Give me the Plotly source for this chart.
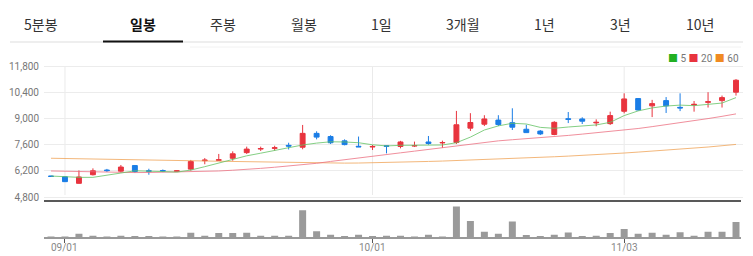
import plotly.graph_objects as go

# ---------------- data ----------------
dates = ["08/29", "09/01", "09/02", "09/03", "09/04", "09/05",
         "09/08", "09/09", "09/10", "09/11", "09/12",
         "09/15", "09/16", "09/17", "09/18", "09/19",
         "09/22", "09/23", "09/24", "09/25", "09/26",
         "09/29", "09/30", "10/01", "10/02",
         "10/10", "10/13", "10/14", "10/15", "10/16", "10/17",
         "10/20", "10/21", "10/22", "10/23", "10/24",
         "10/27", "10/28", "10/29", "10/30", "10/31",
         "11/03", "11/04", "11/05", "11/06", "11/07",
         "11/10", "11/11", "11/12", "11/13"]

open_ = [5920, 5880, 5530, 5990, 6240, 6180, 6480, 6200, 6210, 6170,
         6290, 6740, 6760, 6870, 7170, 7360, 7400, 7560, 7460, 8200,
         8030, 7800, 7510, 7470, 7540, 7500, 7520, 7740, 7690, 7710,
         8480, 8690, 8910, 8770, 8420, 8320, 8140, 8980, 8970, 8760,
         8720, 9380, 10060, 9670, 9950, 9590, 9720, 9860, 9950, 10400]
high = [5930, 5890, 6220, 6330, 6300, 6510, 6500, 6310, 6270, 6230,
        6780, 6880, 7100, 7240, 7490, 7490, 7540, 7700, 8650, 8310,
        8100, 7880, 8030, 7580, 7550, 7800, 7760, 8060, 7810, 9400,
        9280, 9170, 9170, 9540, 8660, 8380, 8850, 9340, 9060, 8950,
        9360, 10340, 10090, 9990, 10140, 10340, 9930, 10400, 10220, 11100]
low = [5890, 5600, 5520, 5950, 6140, 6110, 6100, 5990, 6130, 6150,
       6210, 6550, 6760, 6740, 7100, 7260, 7280, 7340, 7350, 7880,
       7630, 7560, 7470, 7310, 7130, 7400, 7470, 7590, 7430, 7630,
       8330, 8590, 8590, 8380, 8220, 8110, 8100, 8750, 8700, 8580,
       8650, 9270, 9420, 9070, 9290, 9390, 9360, 9580, 9580, 10220]
close = [5900, 5620, 5870, 6200, 6210, 6400, 6160, 6180, 6190, 6200,
         6700, 6770, 6790, 7110, 7360, 7390, 7430, 7520, 8200, 8000,
         7700, 7600, 7480, 7500, 7510, 7740, 7550, 7660, 7710, 8660,
         8780, 8970, 8670, 8530, 8240, 8170, 8790, 8950, 8850, 8790,
         9150, 10040, 9450, 9790, 9670, 9560, 9750, 9890, 10110, 11040]
volume = [10, 20, 65, 35, 20, 35, 30, 30, 10, 10,
          80, 35, 75, 75, 80, 35, 35, 35, 425, 105,
          50, 30, 50, 30, 35, 35, 20, 50, 20, 485,
          260, 95, 65, 255, 45, 30, 50, 85, 30, 35,
          75, 140, 65, 80, 50, 90, 35, 95, 95, 245]
ma5 = [5920, 5880, 5850, 5850, 5950, 6080, 6200, 6190, 6160, 6130,
       6240, 6420, 6620, 6800, 7000, 7140, 7300, 7420, 7580, 7680,
       7750, 7740, 7700, 7590, 7530, 7560, 7560, 7570, 7580, 7700,
       8000, 8380, 8600, 8740, 8700, 8520, 8470, 8540, 8600, 8650,
       8790, 9150, 9400, 9560, 9660, 9710, 9680, 9750, 9820, 10110]
ma20 = [6190, 6170, 6150, 6135, 6120, 6110, 6105, 6110, 6120, 6135,
        6150, 6170, 6190, 6230, 6270, 6330, 6390, 6450, 6510, 6600,
        6700, 6800, 6890, 6980, 7070, 7160, 7250, 7340, 7430, 7530,
        7630, 7720, 7800, 7860, 7910, 7960, 8020, 8090, 8160, 8230,
        8300, 8380, 8460, 8560, 8660, 8770, 8880, 8990, 9110, 9240]
ma60 = [6870, 6860, 6850, 6840, 6830, 6815, 6800, 6785, 6770, 6755,
        6740, 6725, 6710, 6695, 6680, 6665, 6650, 6635, 6625, 6615,
        6610, 6610, 6615, 6625, 6640, 6660, 6680, 6700, 6720, 6745,
        6770, 6800, 6830, 6860, 6890, 6920, 6950, 6985, 7020, 7060,
        7100, 7150, 7200, 7250, 7300, 7350, 7410, 7470, 7540, 7610]
price_ticks = [4800, 6200, 7600, 9000, 10400, 11800]
date_ticks = ["09/01", "10/01", "11/03"]
tabs = ["5분봉", "일봉", "주봉", "월봉", "1일", "3개월", "1년", "3년", "10년"]
tab_x = [41, 143, 223, 304, 381, 463, 544, 620, 700]
active_tab = "일봉"

# ---------------- layout helpers ----------------
W, H = 753, 256
L, R, T, B = 44, 10, 47, 18
PW, PH = W - L - R, H - T - B


def xp(x):
    return (x - L) / PW


def yp(y):
    return (H - B - y) / PH


RED = "#e8343e"
BLUE = "#1a7de6"
FONT = "Roboto, 'Noto Sans CJK KR', sans-serif"

fig = go.Figure()

fig.add_trace(go.Scatter(x=dates, y=ma60, mode="lines", line=dict(color="#f0a050", width=1),
                         opacity=0.75, xaxis="x", yaxis="y", hoverinfo="skip"))
fig.add_trace(go.Scatter(x=dates, y=ma20, mode="lines", line=dict(color="#ec6a7c", width=1),
                         opacity=0.75, xaxis="x", yaxis="y", hoverinfo="skip"))
fig.add_trace(go.Scatter(x=dates, y=ma5, mode="lines", line=dict(color="#66c466", width=1),
                         opacity=0.8, xaxis="x", yaxis="y", hoverinfo="skip"))

fig.add_trace(go.Candlestick(
    x=dates, open=open_, high=high, low=low, close=close,
    increasing=dict(line=dict(color=RED, width=1), fillcolor=RED),
    decreasing=dict(line=dict(color=BLUE, width=1), fillcolor=BLUE),
    whiskerwidth=0, xaxis="x", yaxis="y"))

fig.add_trace(go.Bar(x=dates, y=volume, marker=dict(color="#9a9a9a", line=dict(width=0)),
                     width=0.5, xaxis="x2", yaxis="y2"))

vdom = yp(201)
vmax = max(volume) * 37.3 / 32.3

fig.update_layout(
    width=W, height=H,
    margin=dict(l=L, r=R, t=T, b=B, autoexpand=False),
    paper_bgcolor="white", plot_bgcolor="white",
    showlegend=False, boxgap=0.5,
    font=dict(family=FONT, size=10, color="#777"),
    xaxis=dict(type="category", categoryorder="array", categoryarray=dates,
               range=[-0.5, len(dates) - 0.5], domain=[0, 1], anchor="y",
               showticklabels=False, showgrid=False, zeroline=False, automargin=False,
               rangeslider=dict(visible=False), fixedrange=True),
    yaxis=dict(domain=[vdom, 1], range=[4586, 12815], anchor="x", automargin=False,
               tickvals=price_ticks, ticktext=[f"{v:,}" for v in price_ticks],
               showgrid=True, gridcolor="#ececec", gridwidth=1, zeroline=False,
               ticks="", ticklabelstandoff=4,
               tickfont=dict(size=10, color="#777", family=FONT)),
    xaxis2=dict(type="category", categoryorder="array", categoryarray=dates,
                range=[-0.5, len(dates) - 0.5], domain=[0, 1], anchor="y2",
                tickvals=date_ticks, showticklabels=False, automargin=False,
                ticks="outside", ticklen=4, tickcolor="#555", tickwidth=1,
                showgrid=False, zeroline=False),
    yaxis2=dict(domain=[0, vdom - 0.003], range=[0, vmax], anchor="x2", automargin=False,
                showticklabels=False, showgrid=False, zeroline=False, ticks=""),
)

shapes = []
# vertical grid in price area
for d in date_ticks:
    shapes.append(dict(type="line", xref="x", yref="paper", x0=d, x1=d,
                       y0=yp(195), y1=yp(67), line=dict(color="#eaeaea", width=1), layer="below"))
# faint top line
shapes.append(dict(type="line", xref="paper", yref="paper", x0=xp(190), x1=xp(741),
                   y0=yp(47), y1=yp(47), line=dict(color="#f2f2f2", width=1)))
# divider between price and volume
shapes.append(dict(type="line", xref="paper", yref="paper", x0=xp(44), x1=xp(741),
                   y0=yp(201), y1=yp(201), line=dict(color="#222", width=1.5)))
# volume baseline
shapes.append(dict(type="line", xref="paper", yref="paper", x0=xp(44), x1=xp(741),
                   y0=yp(238), y1=yp(238), line=dict(color="#999", width=2)))
# tab bar lines
shapes.append(dict(type="line", xref="paper", yref="paper", x0=xp(10), x1=xp(743),
                   y0=yp(42), y1=yp(42), line=dict(color="#dddddd", width=1)))
shapes.append(dict(type="line", xref="paper", yref="paper", x0=xp(103), x1=xp(183),
                   y0=yp(41.5), y1=yp(41.5), line=dict(color="#111", width=2)))
fig.update_layout(shapes=shapes)

ann = []
for t, x in zip(tabs, tab_x):
    bold = (t == active_tab)
    ann.append(dict(text=f"<b>{t}</b>" if bold else t, x=xp(x), y=yp(24), xref="paper", yref="paper",
                    showarrow=False, xanchor="center", yanchor="middle",
                    font=dict(size=14, color="#111" if bold else "#333",
                              family="'Noto Sans CJK KR', sans-serif")))
for d in date_ticks:
    ann.append(dict(text=d, x=d, y=yp(247.5), xref="x2", yref="paper",
                    showarrow=False, xanchor="center", yanchor="middle",
                    font=dict(size=10, color="#888", family=FONT)))
legend_txt = ("<span style='color:#22b022'>■</span> 5 "
              "<span style='color:#e8343e'>■</span> 20 "
              "<span style='color:#f08a22'>■</span> 60")
ann.append(dict(text=legend_txt, x=xp(741), y=yp(58), xref="paper", yref="paper",
                showarrow=False, xanchor="right", yanchor="middle",
                font=dict(size=10, color="#777", family=FONT)))
fig.update_layout(annotations=ann)

fig.write_html("out.html")
